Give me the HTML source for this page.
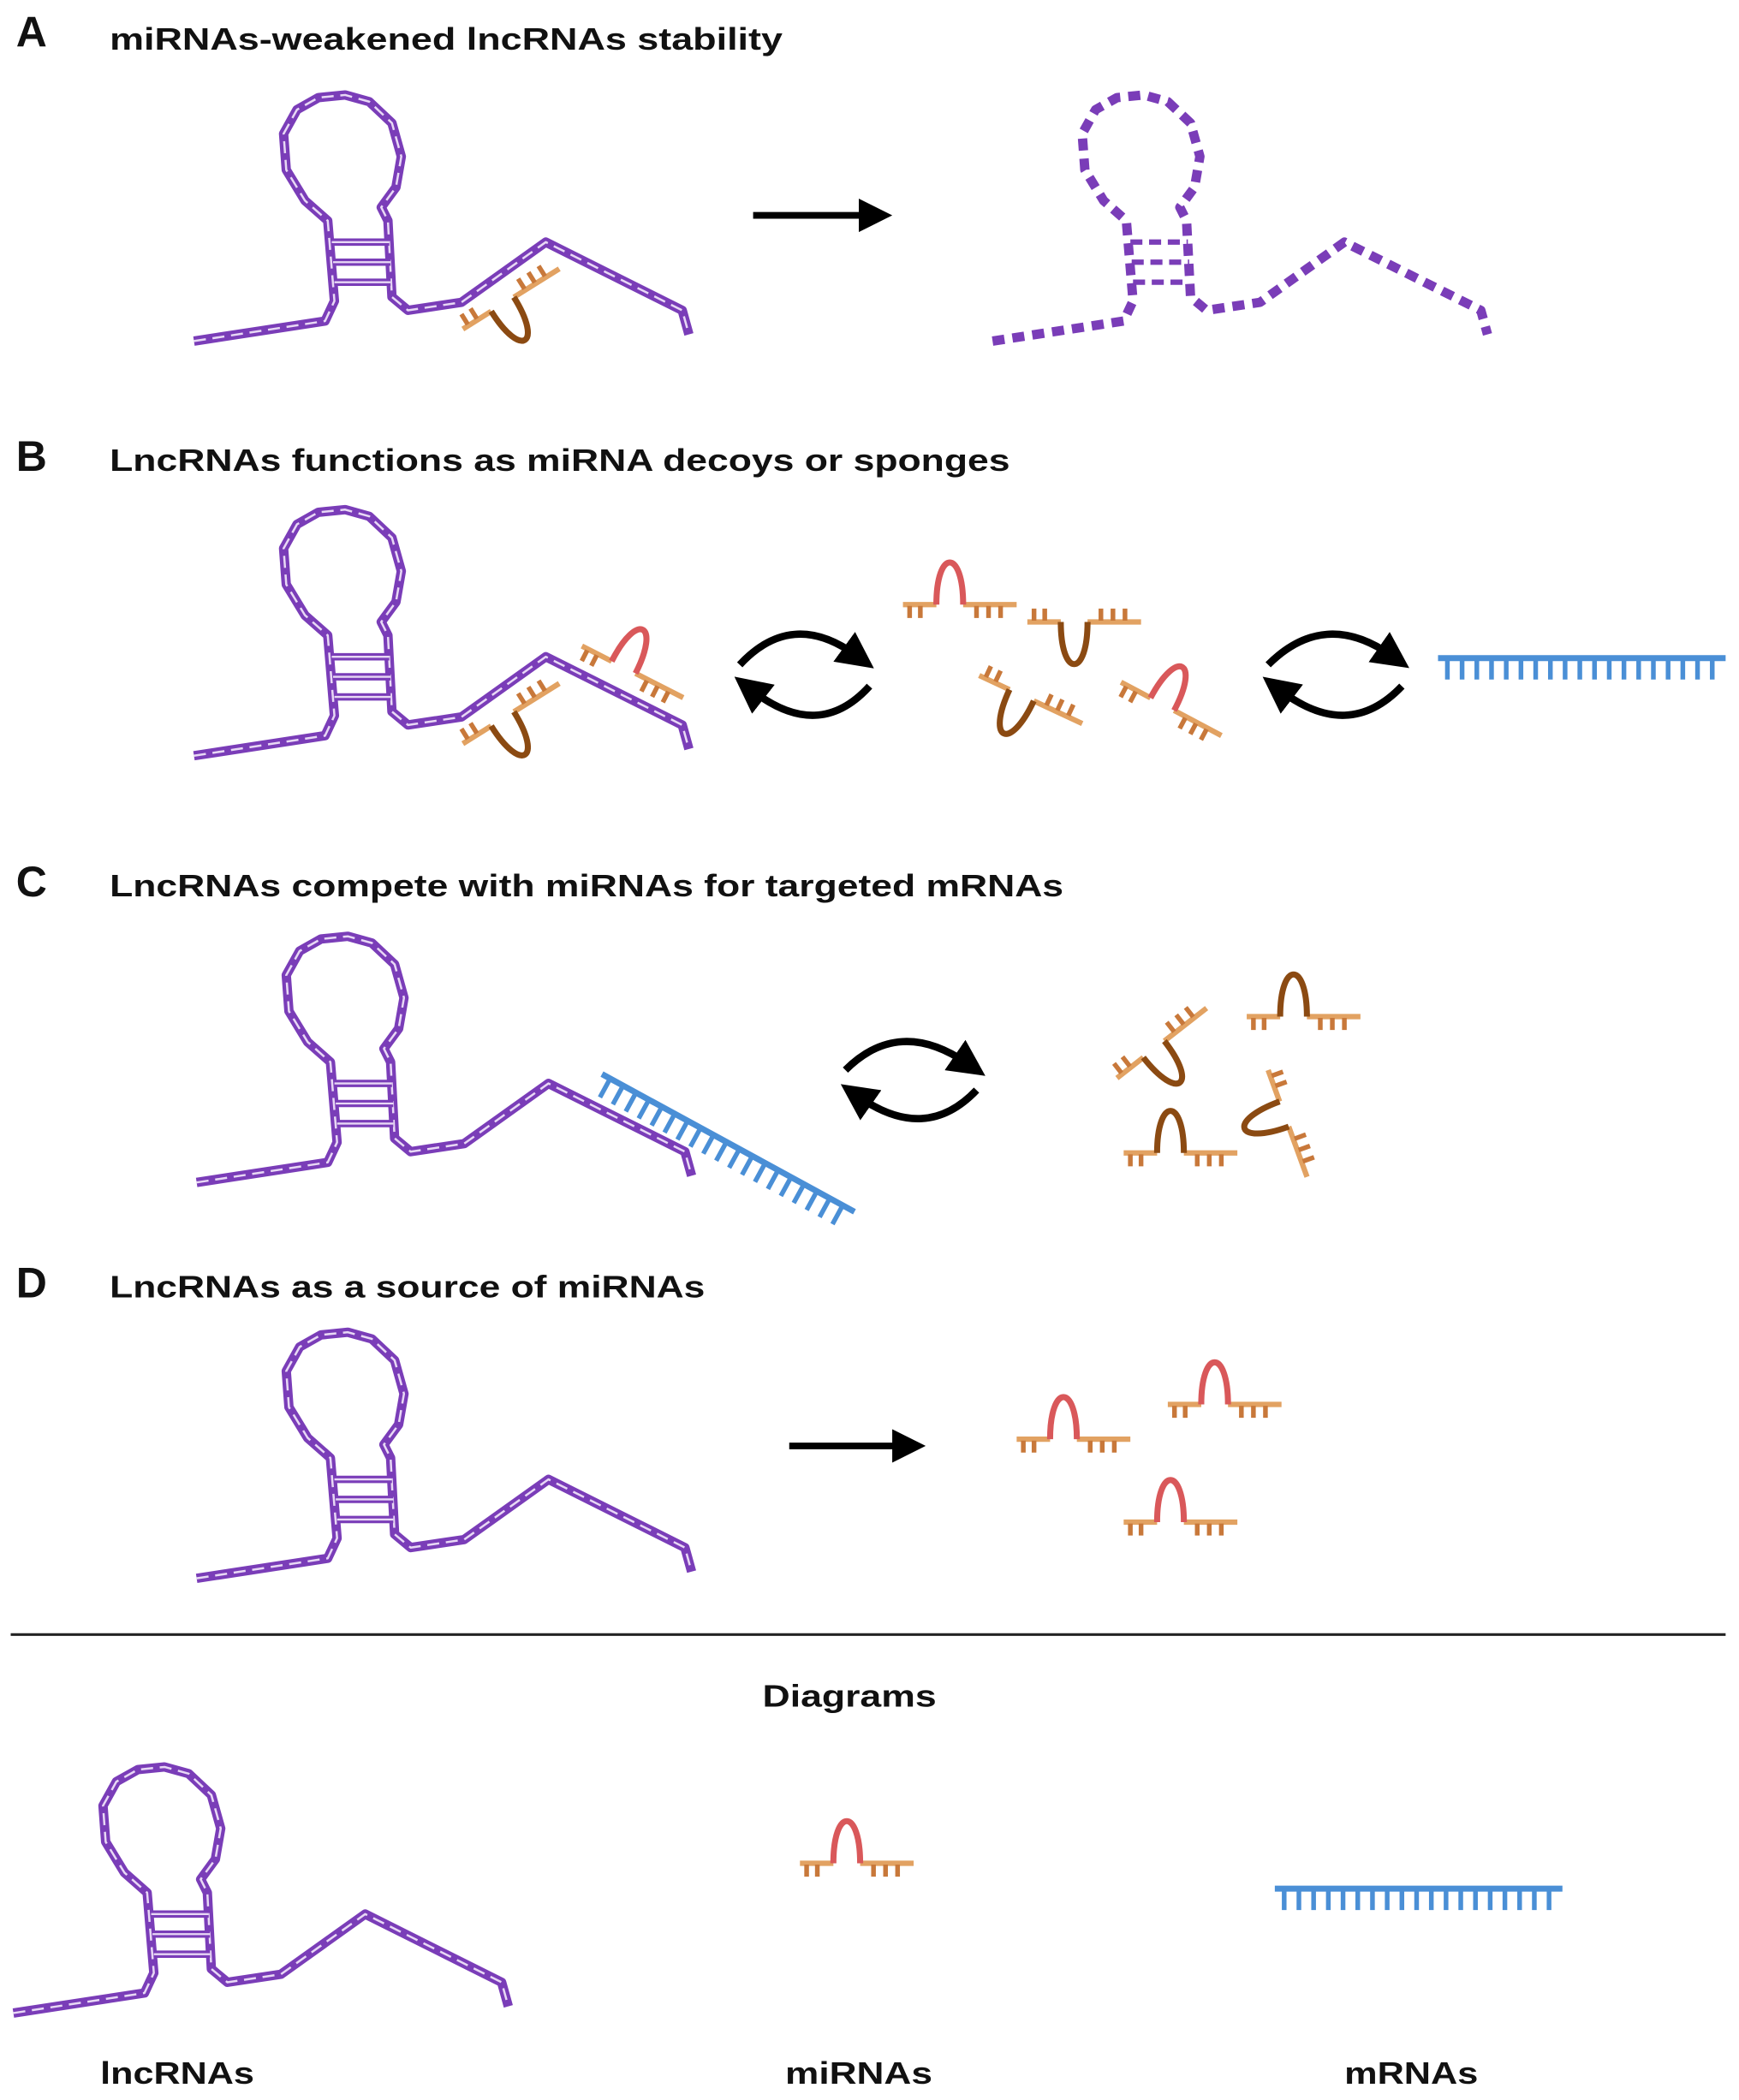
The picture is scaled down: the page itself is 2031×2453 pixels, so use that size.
<!DOCTYPE html>
<html><head><meta charset="utf-8"><style>
html,body{margin:0;padding:0;background:#fff}
svg{display:block}
text{font-family:"Liberation Sans",Arial,sans-serif;font-weight:bold;fill:#111}
</style></head><body>
<svg width="2031" height="2453" viewBox="0 0 1300 1570" preserveAspectRatio="none" xmlns="http://www.w3.org/2000/svg">
<defs>
<marker id="ah" markerWidth="5" markerHeight="5" refX="2" refY="2.5" orient="auto" markerUnits="strokeWidth">
<path d="M0,0 L5,2.5 L0,5 Z" fill="#000"/></marker>
<path id="ln" d="M145,255 L243,240 L250,225 L245,165 L228,150 L214,127 L212,100 L222,82 L238,73 L258,71 L276,76 L293,92 L300,117 L296,140 L285,155 L290,165 L293,222 L305,232 L345,226 L408,181 L510,232 L515,250" fill="none" stroke-linejoin="round"/>
<g id="lnc">
<use href="#ln" stroke="#7a3db8" stroke-width="7"/>
<use href="#ln" stroke="#e8d8f5" stroke-width="1.6" stroke-dasharray="9 5"/>
<path d="M248,181 H291 M249,196 H292 M250,211 H292" stroke="#7a3db8" stroke-width="5.5" fill="none"/>
<path d="M248,181 H291 M249,196 H292 M250,211 H292" stroke="#e8d8f5" stroke-width="1.5" fill="none"/>
</g>
<g id="mi" fill="none">
<path d="M0,0 H25 M45,0 H85" stroke="#e2a262" stroke-width="4"/>
<path d="M5,1 v9 M13,1 v9 M55,1 v9 M64,1 v9 M73,1 v9" stroke="#c8783a" stroke-width="3.5"/>
<path d="M25,0 C25,-42 45,-42 45,0" stroke="currentColor" stroke-width="4.5"/>
</g>
<g id="mr" fill="none" stroke="#4a8fd6">
<path d="M0,0 H215" stroke-width="4.5"/>
<path d="M7,0v16M18,0v16M29,0v16M40,0v16M51,0v16M62,0v16M73,0v16M84,0v16M95,0v16M106,0v16M117,0v16M128,0v16M139,0v16M150,0v16M161,0v16M172,0v16M183,0v16M194,0v16M205,0v16" stroke-width="3.5"/>
</g>
</defs>

<!-- A -->
<text x="12" y="35" font-size="32">A</text>
<text x="82" y="37" font-size="23" textLength="503" lengthAdjust="spacingAndGlyphs">miRNAs-weakened lncRNAs stability</text>
<use href="#lnc"/>
<use href="#mi" color="#8b4a12" transform="translate(346,246) rotate(-32) scale(1,-1)"/>
<line x1="563" y1="161" x2="652" y2="161" stroke="#000" stroke-width="5" marker-end="url(#ah)"/>
<g transform="translate(597,0)">
<use href="#ln" stroke="#7a3db8" stroke-width="7" stroke-dasharray="9 6"/>
<path d="M248,181 H291 M249,196 H292 M250,211 H292" stroke="#7a3db8" stroke-width="4" stroke-dasharray="9 5" fill="none"/>
</g>

<!-- B -->
<text x="12" y="352" font-size="32">B</text>
<text x="82" y="352" font-size="23" textLength="673" lengthAdjust="spacingAndGlyphs">LncRNAs functions as miRNA decoys or sponges</text>
<use href="#lnc" transform="translate(0,310)"/>
<use href="#mi" color="#8b4a12" transform="translate(346,556) rotate(-32) scale(1,-1)"/>
<use href="#mi" color="#d9585a" transform="translate(435,483) rotate(27)"/>
<path d="M553,497 Q592,455 640,490" stroke="#000" stroke-width="5.5" fill="none" marker-end="url(#ah)"/>
<path d="M650,513 Q612,555 562,516" stroke="#000" stroke-width="5.5" fill="none" marker-end="url(#ah)"/>
<use href="#mi" color="#d9585a" transform="translate(675,452)"/>
<use href="#mi" color="#8b4a12" transform="translate(768,465) scale(1,-1)"/>
<use href="#mi" color="#8b4a12" transform="translate(732,505) rotate(25) scale(1,-1)"/>
<use href="#mi" color="#d9585a" transform="translate(838,510) rotate(28)"/>
<path d="M948,497 Q990,455 1040,490" stroke="#000" stroke-width="5.5" fill="none" marker-end="url(#ah)"/>
<path d="M1048,513 Q1008,555 957,516" stroke="#000" stroke-width="5.5" fill="none" marker-end="url(#ah)"/>
<use href="#mr" transform="translate(1075,492)"/>

<!-- C -->
<text x="12" y="670" font-size="32">C</text>
<text x="82" y="670" font-size="23" textLength="713" lengthAdjust="spacingAndGlyphs">LncRNAs compete with miRNAs for targeted mRNAs</text>
<use href="#lnc" transform="translate(2,629)"/>
<use href="#mr" transform="translate(450,803) rotate(28.6)"/>
<path d="M632,800 Q672,760 723,795" stroke="#000" stroke-width="5.5" fill="none" marker-end="url(#ah)"/>
<path d="M730,815 Q692,855 642,820" stroke="#000" stroke-width="5.5" fill="none" marker-end="url(#ah)"/>
<use href="#mi" color="#8b4a12" transform="translate(835,806) rotate(-38) scale(1,-1)"/>
<use href="#mi" color="#8b4a12" transform="translate(932,760)"/>
<use href="#mi" color="#8b4a12" transform="translate(840,862)"/>
<use href="#mi" color="#8b4a12" transform="translate(948,800) rotate(70) scale(1,-1)"/>

<!-- D -->
<text x="12" y="970" font-size="32">D</text>
<text x="82" y="970" font-size="23" textLength="445" lengthAdjust="spacingAndGlyphs">LncRNAs as a source of miRNAs</text>
<use href="#lnc" transform="translate(2,925)"/>
<line x1="590" y1="1081" x2="677" y2="1081" stroke="#000" stroke-width="5" marker-end="url(#ah)"/>
<use href="#mi" color="#d9585a" transform="translate(760,1076)"/>
<use href="#mi" color="#d9585a" transform="translate(873,1050)"/>
<use href="#mi" color="#d9585a" transform="translate(840,1138)"/>

<line x1="8" y1="1222" x2="1290" y2="1222" stroke="#222" stroke-width="2"/>
<text x="570" y="1276" font-size="23" textLength="130" lengthAdjust="spacingAndGlyphs">Diagrams</text>
<use href="#lnc" transform="translate(-135,1250)"/>
<use href="#mi" color="#d9585a" transform="translate(598,1393)"/>
<use href="#mr" transform="translate(953,1412)"/>
<text x="75" y="1558" font-size="23" textLength="115" lengthAdjust="spacingAndGlyphs">lncRNAs</text>
<text x="587" y="1558" font-size="23" textLength="110" lengthAdjust="spacingAndGlyphs">miRNAs</text>
<text x="1005" y="1558" font-size="23" textLength="100" lengthAdjust="spacingAndGlyphs">mRNAs</text>
</svg>
</body></html>
